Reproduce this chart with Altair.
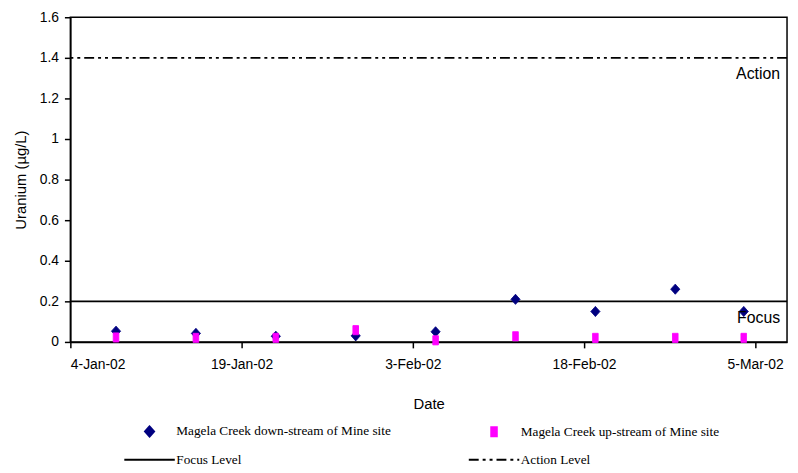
import altair as alt
import pandas as pd

# ---- data ----
sample_dates = ["2002-01-08", "2002-01-15", "2002-01-22", "2002-01-29", "2002-02-05",
                "2002-02-12", "2002-02-19", "2002-02-26", "2002-03-04"]
downstream = [0.053, 0.042, 0.028, 0.030, 0.050, 0.210, 0.150, 0.260, 0.150]
upstream = [0.022, 0.020, 0.020, 0.058, 0.008, 0.028, 0.020, 0.020, 0.020]

series_names = ["Magela Creek down-stream of Mine site",
                "Magela Creek up-stream of Mine site",
                "Focus Level", "Action Level"]
level_names = ["Focus Level", "Action Level"]
level_values = [0.2, 1.4]
level_labels = ["Focus", "Action"]

y_ticks = [0, 0.2, 0.4, 0.6, 0.8, 1.0, 1.2, 1.4, 1.6]
x_tick_dates = [(2002, 1, 4), (2002, 1, 19), (2002, 2, 3), (2002, 2, 18), (2002, 3, 5)]
x_start = (2002, 1, 4, 0)
x_end = (2002, 3, 7, 19)

# ---- tables ----
pts = pd.DataFrame({
    "date": sample_dates * 2,
    "value": downstream + upstream,
    "series": [series_names[0]] * len(sample_dates) + [series_names[1]] * len(sample_dates),
})
levels = pd.DataFrame({"series": level_names, "value": level_values, "label": level_labels})

W, H = 724, 328

def dt(t):
    return alt.DateTime(year=t[0], month=t[1], date=t[2], hours=t[3] if len(t) > 3 else 0, utc=True)

x_scale = alt.Scale(type="utc", domain=[dt(x_start), dt(x_end)])
y_scale = alt.Scale(domain=[0, 1.6], nice=False)

x_axis = alt.Axis(values=[dt(t) for t in x_tick_dates],
                  labelExpr="utcFormat(datum.value, '%-d-%b-%y')",
                  tickSize=6, labelPadding=10, titlePadding=25, labelFontSize=14,
                  titleFontSize=15, labelAngle=0, labelOverlap=False, title="Date")
y_axis = alt.Axis(values=y_ticks, format="~g", tickSize=6, labelPadding=6, titlePadding=11,
                  labelFontSize=14, titleFontSize=15, title="Uranium (µg/L)")

diamond = "M0,-0.4L0.36,0L0,0.4L-0.36,0Z"
rect = "M-0.22,-0.36L0.22,-0.36L0.22,0.36L-0.22,0.36Z"
hline = "M-2,0L2,0"

colors = ["#000080", "#FF00FF", "#000000", "#000000"]
fill_scale = alt.Scale(domain=series_names, range=colors)
stroke_scale = alt.Scale(domain=series_names, range=colors)
shape_scale = alt.Scale(domain=series_names, range=[diamond, rect, hline, hline])
dash_scale = alt.Scale(domain=series_names, range=[[1, 0], [1, 0], [1, 0], [10, 4, 3, 4, 3, 4]])

legend = alt.Legend(title=None, orient="none", legendX=66, legendY=404, columns=2,
                    direction="horizontal", symbolSize=650, symbolStrokeWidth=2,
                    labelFont="Liberation Serif", labelFontSize=13.4, labelColor="black",
                    labelOffset=13, columnPadding=74, rowPadding=5, labelLimit=400)

X = alt.X("date:T", scale=x_scale, axis=x_axis)
Y = alt.Y("value:Q", scale=y_scale, axis=y_axis)

rules = alt.Chart(levels).mark_rule(strokeWidth=1.8).encode(
    y=Y,
    stroke=alt.Stroke("series:N", scale=stroke_scale, legend=legend),
    strokeDash=alt.StrokeDash("series:N", scale=dash_scale, legend=legend),
)

points = alt.Chart(pts).mark_point(filled=True, size=650, strokeWidth=1, opacity=1).encode(
    x=X,
    y=Y,
    fill=alt.Fill("series:N", scale=fill_scale, legend=legend),
    stroke=alt.Stroke("series:N", scale=stroke_scale, legend=legend),
    shape=alt.Shape("series:N", scale=shape_scale, legend=legend),
    strokeDash=alt.StrokeDash("series:N", scale=dash_scale, legend=legend),
)

texts = alt.Chart(levels).mark_text(align="right", baseline="middle", dx=-7, dy=16.5,
                                    font="Liberation Sans", fontSize=16, color="black").encode(
    x=alt.XDatum(dt(x_end), type="temporal", scale=x_scale, axis=x_axis),
    y=Y,
    text="label:N",
)

chart = alt.layer(rules, points, texts).properties(
    width=W, height=H,
    padding={"left": 63, "top": 7, "right": 3, "bottom": 125},
    autosize=alt.AutoSizeParams(type="none"),
).configure_view(stroke="black", strokeWidth=1.5).configure_axis(
    domainColor="black", domainWidth=1.5, tickColor="black", tickWidth=1.5,
    labelColor="black", titleColor="black", labelFont="Liberation Sans",
    titleFont="Liberation Sans", titleFontWeight="normal", grid=False,
)

chart.save("out.html", embed_options={"renderer": "svg", "actions": False})
